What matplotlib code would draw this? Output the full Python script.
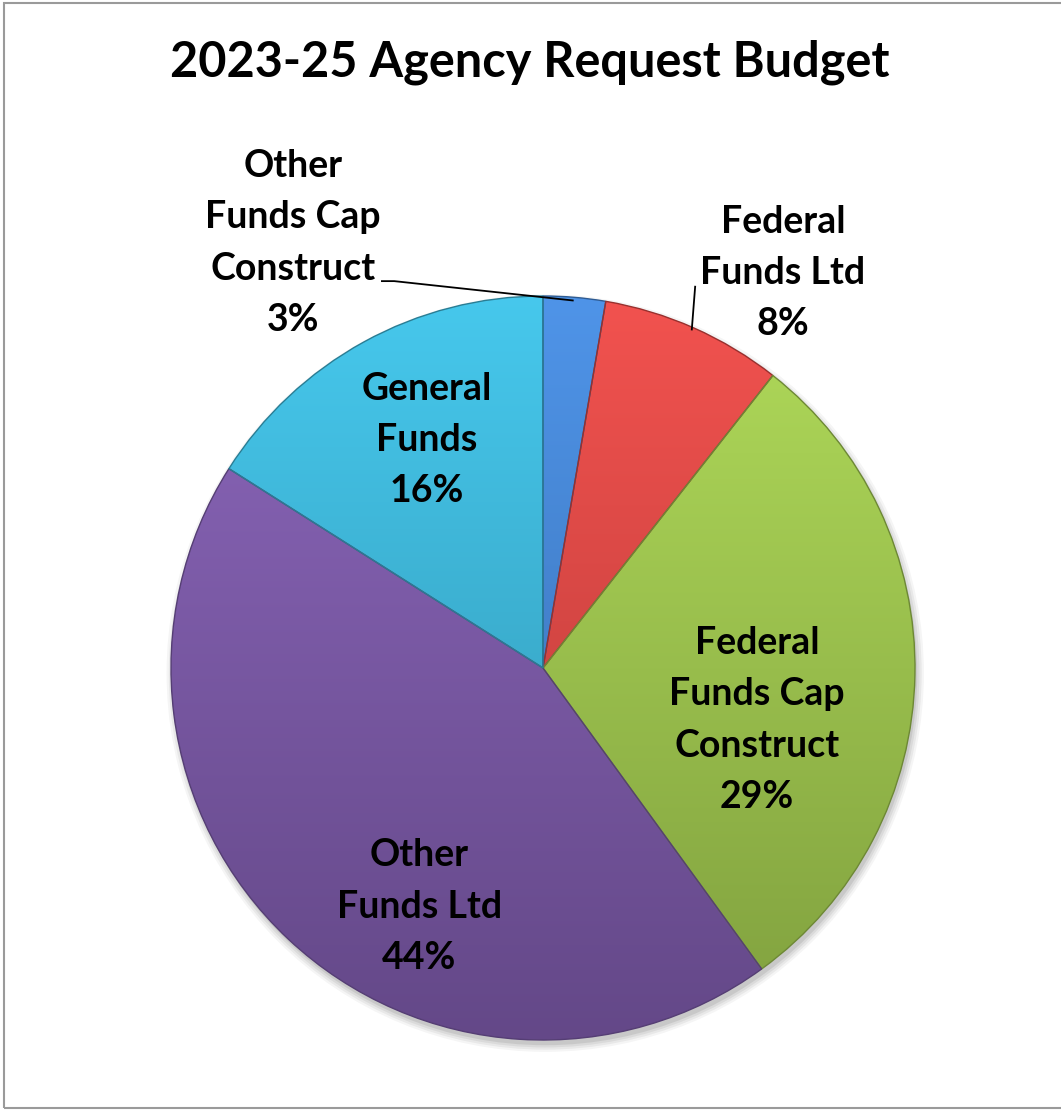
import numpy as np
import matplotlib
matplotlib.use("Agg")
import matplotlib.pyplot as plt
from matplotlib.colors import LinearSegmentedColormap, to_rgb
from matplotlib.patches import Rectangle, Circle

plt.rcParams['font.family'] = ['Lato', 'DejaVu Sans']

title = "2023-25 Agency Request Budget"
labels = ["Other\nFunds Cap\nConstruct", "Federal\nFunds Ltd", "Federal\nFunds Cap\nConstruct",
          "Other\nFunds Ltd", "General\nFunds"]
values = [2.7, 7.9, 29.4, 44.0, 16.0]
colors = ["#4282D0", "#D94542", "#9CC34C", "#7A58A6", "#3AB2D4"]

# label positions in pie units (radius = 1), and leader lines for the outside ones
label_xy = [(-0.672, 1.142), (0.645, 1.062), (0.575, -0.140), (-0.333, -0.642), (-0.312, 0.613)]
leaders = {0: [(-0.433, 1.040), (-0.400, 1.040), (0.080, 0.988)],
           1: [(0.409, 1.025), (0.400, 0.910)]}

fig = plt.figure(figsize=(10.61, 11.10), dpi=100)
fig.patch.set_facecolor("white")

# chart frame
fig.patches.append(Rectangle((3.5 / 1061, 2.5 / 1110), 1.2, 1 - 5.5 / 1110,
                             transform=fig.transFigure, fill=False,
                             edgecolor="#9A9A9A", linewidth=1.5))

fig.text(530 / 1061, 1 - 62 / 1110, title, ha="center", va="center",
         fontsize=35, fontweight="bold", color="black")

R = 372
cx, cy = 543, 668
ax = fig.add_axes([(cx - R) / 1061, (1110 - cy - R) / 1110, 2 * R / 1061, 2 * R / 1110])
ax.axis("off")

# soft shadow under the pie (offset down-right)
for k, a in enumerate([0.04, 0.05, 0.06, 0.08]):
    ax.add_patch(Circle((0.006, -0.014), 1.0 + 0.006 * (3 - k), color="black",
                        alpha=a, lw=0, zorder=0, clip_on=False))

wedges, _ = ax.pie(values, colors=colors, startangle=90, counterclock=False,
                   radius=1.0, wedgeprops=dict(linewidth=0))

grad = np.linspace(0, 1, 256).reshape(-1, 1)
for w, c in zip(wedges, colors):
    rgb = np.array(to_rgb(c))
    light = np.clip(rgb * 1.08 + 0.03, 0, 1)
    dark = rgb * 0.82
    cmap = LinearSegmentedColormap.from_list("g", [light, dark])
    im = ax.imshow(grad, extent=[-1, 1, -1, 1], origin="upper", cmap=cmap,
                   aspect="auto", zorder=2)
    im.set_clip_path(w)
    w.set_facecolor("none")
    w.set_edgecolor(tuple(rgb * 0.7))
    w.set_linewidth(1.0)
    w.set_zorder(3)

ax.set_xlim(-1, 1)
ax.set_ylim(-1, 1)
ax.set_aspect("equal")

total = sum(values)
for i, (lab, v) in enumerate(zip(labels, values)):
    x, y = label_xy[i]
    ax.text(x, y, f"{lab}\n{100 * v / total:.0f}%", ha="center", va="center", fontsize=27,
            fontweight="bold", color="black", linespacing=1.62, zorder=5,
            clip_on=False)

for pts in leaders.values():
    xs, ys = zip(*pts)
    ax.plot(xs, ys, color="black", lw=1.3, zorder=4, clip_on=False)

fig.savefig("out.png", dpi=100)
